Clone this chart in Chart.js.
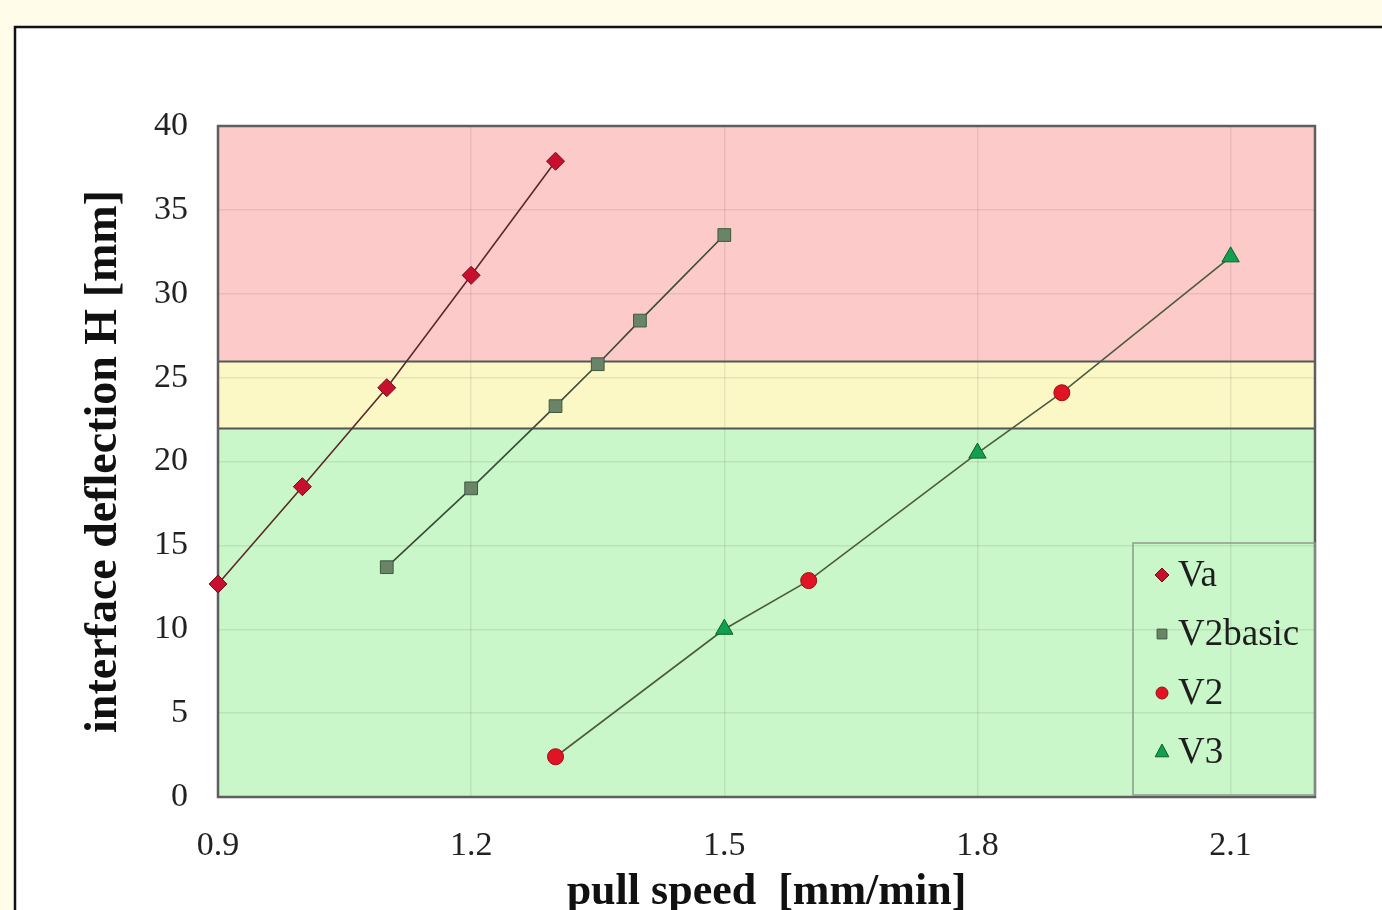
<!DOCTYPE html>
<html><head><meta charset="utf-8">
<script src="https://cdn.jsdelivr.net/npm/chart.js@4.4.0/dist/chart.umd.min.js"></script>
<style>html,body{margin:0;padding:0;background:#fffde9;overflow:hidden}#wrap{width:1382px;height:910px;position:relative}</style>
</head><body><div id="wrap"><canvas id="c"></canvas></div>
<script>
const seriesNames = ['Va', 'V2basic', 'V2', 'V3'];
const vaX = [0.9, 1.0, 1.1, 1.2, 1.3];
const vaY = [12.7, 18.5, 24.4, 31.1, 37.9];
const v2basicX = [1.1, 1.2, 1.3, 1.35, 1.4, 1.5];
const v2basicY = [13.7, 18.4, 23.3, 25.8, 28.4, 33.5];
const v2X = [1.3, 1.6, 1.9];
const v2Y = [2.4, 12.9, 24.1];
const v3X = [1.5, 1.8, 2.1];
const v3Y = [10.0, 20.5, 32.2];
const xTicks = [0.9, 1.2, 1.5, 1.8, 2.1];
const yTicks = [0, 5, 10, 15, 20, 25, 30, 35, 40];
const bandLimits = [0, 22, 26, 40];
const bandColors = ['#c9f7c9', '#fcf8c6', '#fdcaca'];

const pts = (xs, ys) => xs.map((x, i) => ({x: x, y: ys[i]}));
const SERIF = '"Liberation Serif", "Times New Roman", serif';

const styles = [
  {shape: 'diamond', fill: '#c8102e', edge: '#6a1020', line: '#5a2a2a', r: 9, showLine: true},
  {shape: 'square', fill: '#6a8468', edge: '#3e5a40', line: '#3a4a3a', r: 9, showLine: true},
  {shape: 'circle', fill: '#e01424', edge: '#9a1010', line: '#4d5a40', r: 8, showLine: false},
  {shape: 'triangle', fill: '#12a050', edge: '#0a6030', line: '#4d5a40', r: 10, showLine: false}
];
const psMap = {diamond: 'rectRot', square: 'rect', circle: 'circle', triangle: 'triangle'};
const dataSets = [pts(vaX, vaY), pts(v2basicX, v2basicY), pts(v2X, v2Y), pts(v3X, v3Y)];
// V2 and V3 share one connecting line through their points in x order
const v2v3Line = pts(v2X, v2Y).concat(pts(v3X, v3Y)).sort((a, b) => a.x - b.x);

function drawMarker(ctx, shape, x, y, r, fill, edge) {
  ctx.beginPath();
  if (shape === 'diamond') { ctx.moveTo(x, y - r); ctx.lineTo(x + r, y); ctx.lineTo(x, y + r); ctx.lineTo(x - r, y); ctx.closePath(); }
  else if (shape === 'square') { ctx.rect(x - r * 0.7, y - r * 0.7, r * 1.4, r * 1.4); }
  else if (shape === 'circle') { ctx.arc(x, y, r, 0, Math.PI * 2); }
  else { ctx.moveTo(x, y - r); ctx.lineTo(x + r * 0.85, y + r * 0.6); ctx.lineTo(x - r * 0.85, y + r * 0.6); ctx.closePath(); }
  ctx.fillStyle = fill; ctx.fill();
  ctx.lineWidth = 1; ctx.strokeStyle = edge; ctx.stroke();
}

const bgPlugin = {
  id: 'bgPlugin',
  beforeDraw(chart) {
    const ctx = chart.ctx, w = chart.width, h = chart.height;
    const a = chart.chartArea, ys = chart.scales.y;
    ctx.save();
    ctx.fillStyle = '#fffde9'; ctx.fillRect(0, 0, w, h);
    ctx.fillStyle = '#ffffff'; ctx.fillRect(15, 27, w, h);
    ctx.strokeStyle = '#111'; ctx.lineWidth = 2.5;
    ctx.beginPath(); ctx.moveTo(15, h + 5); ctx.lineTo(15, 27); ctx.lineTo(w + 5, 27); ctx.stroke();
    for (let i = 0; i < bandColors.length; i++) {
      const y0 = ys.getPixelForValue(bandLimits[i]);
      const y1 = ys.getPixelForValue(bandLimits[i + 1]);
      ctx.fillStyle = bandColors[i];
      ctx.fillRect(a.left, y1, a.right - a.left, y0 - y1);
    }
    ctx.restore();
  },
  beforeDatasetsDraw(chart) {
    const ctx = chart.ctx, a = chart.chartArea, ys = chart.scales.y;
    ctx.save();
    ctx.strokeStyle = '#555'; ctx.lineWidth = 2;
    for (let i = 1; i < bandLimits.length - 1; i++) {
      const y = Math.round(ys.getPixelForValue(bandLimits[i])) + 0.5;
      ctx.beginPath(); ctx.moveTo(a.left, y); ctx.lineTo(a.right, y); ctx.stroke();
    }
    ctx.strokeStyle = '#5e5e5e'; ctx.lineWidth = 2.5;
    ctx.strokeRect(a.left, a.top, a.right - a.left, a.bottom - a.top);
    ctx.restore();
  },
  afterDraw(chart) {
    const ctx = chart.ctx, a = chart.chartArea;
    const bw = 182, bh = 252;
    const bx = a.right - bw, by = a.bottom - 2 - bh;
    ctx.save();
    ctx.strokeStyle = '#8a9a8a'; ctx.lineWidth = 1.5;
    ctx.strokeRect(bx, by, bw, bh);
    ctx.font = '37px ' + SERIF;
    ctx.textBaseline = 'middle'; ctx.textAlign = 'left';
    const rowH = 59;
    seriesNames.forEach((name, i) => {
      const cy = by + 32 + i * rowH;
      const s = styles[i];
      drawMarker(ctx, s.shape, bx + 29, cy, s.r - 2, s.fill, s.edge);
      ctx.fillStyle = '#1e1e1e';
      ctx.fillText(name, bx + 45, cy + 1);
    });
    ctx.restore();
  }
};

const datasets = seriesNames.map((n, i) => ({
  label: n,
  data: dataSets[i],
  showLine: styles[i].showLine,
  borderColor: styles[i].line,
  borderWidth: 1.6,
  backgroundColor: styles[i].fill,
  pointBackgroundColor: styles[i].fill,
  pointBorderColor: styles[i].edge,
  pointBorderWidth: 1,
  pointStyle: psMap[styles[i].shape],
  pointRadius: styles[i].r,
  pointHoverRadius: styles[i].r,
  clip: 14,
  order: 0
}));
datasets.push({
  label: 'V2/V3 line',
  data: v2v3Line,
  showLine: true,
  borderColor: '#4d5a40',
  borderWidth: 1.6,
  pointRadius: 0,
  pointHoverRadius: 0,
  order: 1
});

new Chart(document.getElementById('c'), {
  type: 'scatter',
  data: {datasets: datasets},
  options: {
    responsive: true,
    maintainAspectRatio: false,
    animation: false,
    layout: {padding: {left: 77, top: 126, right: 67, bottom: 0}},
    plugins: {legend: {display: false}, tooltip: {enabled: false}},
    scales: {
      x: {
        type: 'linear', min: 0.9, max: 2.2,
        afterBuildTicks(s) { s.ticks = xTicks.map(v => ({value: v})); },
        afterFit(s) { s.height = 113; },
        grid: {color: 'rgba(0,0,0,0.08)', lineWidth: 1.5, drawTicks: false},
        border: {display: false},
        ticks: {font: {family: SERIF, size: 34}, color: '#222', padding: 29, maxRotation: 0,
          callback: v => Number(v).toFixed(1)},
        title: {display: true, text: 'pull speed  [mm/min]', font: {family: SERIF, size: 44, weight: 'bold', lineHeight: 0.8}, color: '#111', padding: 0}
      },
      y: {
        type: 'linear', min: 0, max: 40,
        afterBuildTicks(s) { s.ticks = yTicks.map(v => ({value: v})); },
        afterFit(s) { s.width = 218 - 77; },
        grid: {color: 'rgba(0,0,0,0.08)', lineWidth: 1.5, drawTicks: false},
        border: {display: false},
        ticks: {font: {family: SERIF, size: 34}, color: '#222', padding: 30},
        title: {display: true, text: 'interface deflection H [mm]', font: {family: SERIF, size: 46, weight: 'bold'}, color: '#111', padding: 0}
      }
    }
  },
  plugins: [bgPlugin]
});
</script></body></html>
